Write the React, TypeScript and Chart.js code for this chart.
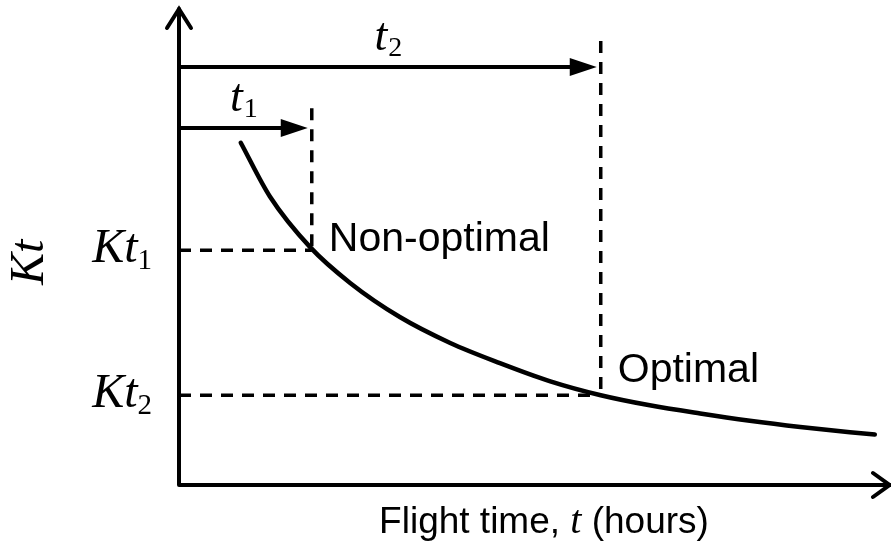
import { useEffect, useRef } from "react";
import { Chart, registerables } from "chart.js";

Chart.register(...registerables);

// Cost-rate curve Kt versus flight time t (arbitrary units, 0..10 on both axes)
const FLIGHT_TIME = [0.87, 1.28, 1.85, 2.41, 3.11, 3.82, 4.52, 5.23, 5.94, 6.63, 7.34, 8.04, 8.75, 9.45, 9.8];
const KT_VALUES = [7.13, 6.01, 4.95, 4.21, 3.5, 2.96, 2.54, 2.16, 1.87, 1.66, 1.49, 1.34, 1.21, 1.1, 1.05];

// Marked operating points: [t, Kt]
const POINT_T = [1.87, 5.94];
const POINT_KT = [4.89, 1.87];
// Height of the duration arrows and of the top of the vertical guides
const ARROW_LEVEL = [7.44, 8.71];
const GUIDE_TOP = [7.85, 9.25];

const POINT_LABELS = ["Non-optimal", "Optimal"];
const SUBSCRIPTS = ["1", "2"];
const X_TITLE = ["Flight time, ", "t", " (hours)"];
const Y_TITLE = "Kt";

const SERIF = "'Liberation Serif', 'Times New Roman', serif";
const SANS = "'Liberation Sans', Arial, sans-serif";

const schematicPlugin = {
  id: "schematic",
  afterDatasetsDraw(chart: any) {
    const { ctx } = chart;
    const xs = chart.scales.x;
    const ys = chart.scales.y;
    const x0 = xs.getPixelForValue(0);
    const x10 = xs.getPixelForValue(10);
    const y0 = ys.getPixelForValue(0);
    const y10 = ys.getPixelForValue(10);

    ctx.save();
    ctx.strokeStyle = "#000";
    ctx.fillStyle = "#000";
    ctx.lineWidth = 4;
    ctx.lineCap = "round";
    ctx.lineJoin = "miter";

    // axes with open arrowheads
    ctx.beginPath();
    ctx.moveTo(x0, y0);
    ctx.lineTo(x0, y10 + 4);
    ctx.moveTo(x0, y0);
    ctx.lineTo(x10 + 1, y0);
    ctx.stroke();
    ctx.beginPath();
    ctx.moveTo(x0 - 12, y10 + 23);
    ctx.lineTo(x0, y10 + 4);
    ctx.lineTo(x0 + 12, y10 + 23);
    ctx.stroke();
    ctx.beginPath();
    ctx.moveTo(x10 - 16, y0 - 12);
    ctx.lineTo(x10 + 0.5, y0);
    ctx.lineTo(x10 - 16, y0 + 12);
    ctx.stroke();

    // duration arrows t1, t2
    for (let i = 0; i < POINT_T.length; i++) {
      const ay = ys.getPixelForValue(ARROW_LEVEL[i]);
      const tip = xs.getPixelForValue(POINT_T[i]) - 4;
      ctx.lineCap = "butt";
      ctx.lineWidth = 4;
      ctx.beginPath();
      ctx.moveTo(x0, ay);
      ctx.lineTo(tip - 20, ay);
      ctx.stroke();
      ctx.beginPath();
      ctx.moveTo(tip, ay);
      ctx.lineTo(tip - 27, ay - 9);
      ctx.lineTo(tip - 27, ay + 9);
      ctx.closePath();
      ctx.fill();

      // label t_i above the arrow
      const mid = (x0 + tip) / 2;
      const base = ay - 17;
      ctx.font = `italic 46px ${SERIF}`;
      const tw = ctx.measureText("t").width;
      ctx.font = `28px ${SERIF}`;
      const sw = ctx.measureText(SUBSCRIPTS[i]).width;
      const left = mid - (tw + sw) / 2;
      ctx.textAlign = "left";
      ctx.textBaseline = "alphabetic";
      ctx.font = `italic 46px ${SERIF}`;
      ctx.fillText("t", left, base);
      ctx.font = `28px ${SERIF}`;
      ctx.fillText(SUBSCRIPTS[i], left + tw + 1, base + 6);
    }

    // Kt_i tick labels left of the axis
    for (let i = 0; i < POINT_KT.length; i++) {
      const py = ys.getPixelForValue(POINT_KT[i]);
      const right = x0 - 27;
      ctx.font = `29px ${SERIF}`;
      const sw = ctx.measureText(SUBSCRIPTS[i]).width;
      ctx.font = `italic 48px ${SERIF}`;
      const kw = ctx.measureText("Kt").width;
      ctx.textAlign = "left";
      ctx.fillText("Kt", right - sw - kw, py + 12);
      ctx.font = `29px ${SERIF}`;
      ctx.fillText(SUBSCRIPTS[i], right - sw, py + 19);
    }

    // point annotations
    ctx.font = `41px ${SANS}`;
    ctx.textAlign = "left";
    ctx.fillText(POINT_LABELS[0], xs.getPixelForValue(POINT_T[0]) + 17, ys.getPixelForValue(POINT_KT[0]) + 1);
    ctx.fillText(POINT_LABELS[1], xs.getPixelForValue(POINT_T[1]) + 17, ys.getPixelForValue(POINT_KT[1]) - 13);

    // x-axis title
    const parts = [
      { text: X_TITLE[0], font: `37px ${SANS}` },
      { text: X_TITLE[1], font: `italic 40px ${SERIF}` },
      { text: X_TITLE[2], font: `37px ${SANS}` },
    ];
    let total = 0;
    const widths = parts.map((p) => {
      ctx.font = p.font;
      const w = ctx.measureText(p.text).width;
      total += w;
      return w;
    });
    let cx = (x0 + x10) / 2 + 10 - total / 2;
    parts.forEach((p, i) => {
      ctx.font = p.font;
      ctx.fillText(p.text, cx, y0 + 48);
      cx += widths[i];
    });

    // y-axis title, rotated
    ctx.save();
    ctx.translate(43, ys.getPixelForValue(POINT_KT[0]) + 12);
    ctx.rotate(-Math.PI / 2);
    ctx.font = `italic 48px ${SERIF}`;
    ctx.textAlign = "center";
    ctx.fillText(Y_TITLE, 0, 0);
    ctx.restore();

    ctx.restore();
  },
};

export default function App() {
  const canvasRef = useRef<HTMLCanvasElement | null>(null);

  useEffect(() => {
    const canvas = canvasRef.current;
    if (!canvas) return;

    const guide = (pts: { x: number; y: number }[]) => ({
      type: "line" as const,
      data: pts,
      borderColor: "#000",
      borderWidth: 3.5,
      borderDash: [12, 9],
      pointRadius: 0,
      tension: 0,
      fill: false,
    });

    const guides = POINT_T.flatMap((t, i) => [
      // vertical guide, dashed from the top down
      guide([
        { x: t, y: GUIDE_TOP[i] },
        { x: t, y: POINT_KT[i] },
      ]),
      // horizontal guide, dashed from the axis out
      guide([
        { x: 0, y: POINT_KT[i] },
        { x: t, y: POINT_KT[i] },
      ]),
    ]);

    const chart = new Chart(canvas, {
      type: "line",
      data: {
        datasets: [
          {
            data: FLIGHT_TIME.map((t, i) => ({ x: t, y: KT_VALUES[i] })),
            borderColor: "#000",
            borderWidth: 4.5,
            borderCapStyle: "round",
            pointRadius: 0,
            cubicInterpolationMode: "monotone",
            fill: false,
          },
          ...guides,
        ],
      },
      options: {
        responsive: false,
        animation: false,
        layout: { padding: { left: 179, right: 2, top: 5, bottom: 57 } },
        scales: {
          x: { type: "linear", min: 0, max: 10, display: false },
          y: { type: "linear", min: 0, max: 10, display: false },
        },
        plugins: {
          legend: { display: false },
          tooltip: { enabled: false },
        },
      },
      plugins: [schematicPlugin],
    });

    return () => chart.destroy();
  }, []);

  return (
    <div style={{ position: "fixed", left: 0, top: 0, width: 891, height: 542, background: "#fff" }}>
      <canvas ref={canvasRef} width={891} height={542} style={{ display: "block" }} />
    </div>
  );
}
